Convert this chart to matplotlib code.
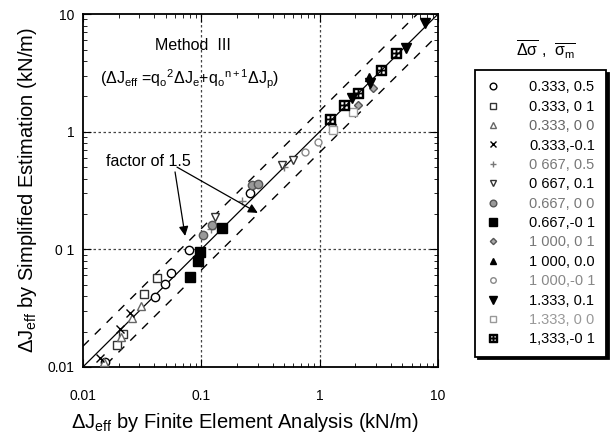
import matplotlib
matplotlib.use("Agg")
import matplotlib.pyplot as plt
from matplotlib.lines import Line2D
import numpy as np

plt.rcParams['font.family'] = ['Liberation Sans', 'DejaVu Sans']
plt.rcParams['mathtext.fontset'] = 'custom'
plt.rcParams['mathtext.rm'] = 'Liberation Sans'
plt.rcParams['mathtext.it'] = 'Liberation Sans'

labels = ['0.333, 0.5', '0.333, 0 1', '0.333, 0 0', '0.333,-0.1', '0 667, 0.5',
          '0 667, 0.1', '0.667, 0 0', '0.667,-0 1', '1 000, 0 1', '1 000, 0.0',
          '1 000,-0 1', '1.333, 0.1', '1.333, 0 0', '1,333,-0 1']

x_fe = [
    [0.0155, 0.041, 0.049, 0.055, 0.078, 0.26],
    [0.0195, 0.022, 0.033, 0.042],
    [0.015, 0.021, 0.026, 0.031],
    [0.014, 0.0205, 0.025],
    [0.12, 0.22, 0.5],
    [0.13, 0.48, 0.60, 1.27],
    [0.103, 0.123, 0.27, 0.30],
    [0.081, 0.094, 0.098, 0.149],
    [2.1, 2.84],
    [2.6],
    [0.75, 0.97],
    [1.87, 2.68, 5.4, 7.8],
    [1.3, 1.9],
    [1.23, 1.6, 2.11, 3.3, 4.43],
]
y_se = [
    [0.011, 0.039, 0.051, 0.063, 0.098, 0.30],
    [0.0155, 0.019, 0.042, 0.057],
    [0.011, 0.018, 0.026, 0.033],
    [0.012, 0.021, 0.029],
    [0.15, 0.26, 0.50],
    [0.188, 0.52, 0.575, 1.07],
    [0.132, 0.161, 0.35, 0.36],
    [0.058, 0.079, 0.095, 0.152],
    [1.69, 2.35],
    [2.9],
    [0.67, 0.82],
    [1.93, 2.6, 5.2, 8.4],
    [1.03, 1.47],
    [1.28, 1.69, 2.13, 3.34, 4.65],
]

styles = [
    dict(marker='o', mfc='white', mec='black', ms=6),
    dict(marker='s', mfc='white', mec='#333333', ms=6),
    dict(marker='^', mfc='white', mec='#666666', ms=6),
    dict(marker='x', mfc='none', mec='black', ms=6),
    dict(marker='+', mfc='none', mec='#777777', ms=6),
    dict(marker='v', mfc='white', mec='#333333', ms=6),
    dict(marker='o', mfc='#999999', mec='#555555', ms=6),
    dict(marker='s', mfc='black', mec='black', ms=7),
    dict(marker='D', mfc='#aaaaaa', mec='#555555', ms=4),
    dict(marker='^', mfc='black', mec='black', ms=6),
    dict(marker='o', mfc='white', mec='#888888', ms=5),
    dict(marker='v', mfc='black', mec='black', ms=7),
    dict(marker='s', mfc='white', mec='#999999', ms=6),
    dict(marker=r'$\boxplus$', mfc='black', mec='black', ms=7),
]
text_colors = ['black', 'black', '#666666', 'black', '#777777', 'black', '#777777',
               'black', '#777777', 'black', '#888888', 'black', '#999999', 'black']

fig = plt.figure(figsize=(6.1, 4.41), dpi=100)
ax = fig.add_axes([0.136, 0.168, 0.582, 0.800])
ax.set_xscale('log')
ax.set_yscale('log')
ax.set_xlim(0.01, 10)
ax.set_ylim(0.01, 10)

ref = np.array([0.01, 10])
ax.plot(ref, ref, color='black', lw=0.9, zorder=2)
ax.plot(ref, ref * 1.5, color='black', lw=1.0, ls=(0, (6, 6)), zorder=2)
ax.plot(ref, ref / 1.5, color='black', lw=1.0, ls=(0, (6, 6)), zorder=2)

for v in [0.1, 1]:
    ax.axvline(v, color='#444444', lw=0.9, ls=(0, (2, 2)), zorder=1)
    ax.axhline(v, color='#444444', lw=0.9, ls=(0, (2, 2)), zorder=1)

handles = []
for xs, ys, st, lab in zip(x_fe, y_se, styles, labels):
    ax.plot(xs, ys, ls='none', mew=1.0, zorder=3, **st)
    handles.append(Line2D([], [], ls='none', mew=1.0,
                          **{**st, 'ms': st['ms'] * 0.8}, label=lab))

ax.set_xticks([0.01, 0.1, 1, 10])
ax.set_xticklabels(['0.01', '0.1', '1', '10'])
ax.set_yticks([0.01, 0.1, 1, 10])
ax.set_yticklabels(['0.01', '0 1', '1', '10'])
ax.tick_params(which='both', direction='in', top=True, right=True, labelsize=10)
ax.tick_params(which='major', length=6)
ax.tick_params(which='minor', length=3)
ax.tick_params(axis='x', pad=16)
ax.tick_params(axis='y', pad=6)
for s in ax.spines.values():
    s.set_linewidth(1.3)

ax.set_xlabel(r'$\Delta$J$_{\mathregular{eff}}$ by Finite Element Analysis (kN/m)',
              fontsize=14.5, labelpad=10)
ax.xaxis.set_label_coords(0.458, -0.125)
ax.set_ylabel(r'$\Delta$J$_{\mathregular{eff}}$ by Simplified Estimation (kN/m)',
              fontsize=14.5, labelpad=6)

ax.text(0.31, 0.91, 'Method  III', transform=ax.transAxes, fontsize=11.5,
        ha='center', va='center')
ax.text(0.30, 0.815,
        r'($\Delta$J$_{\mathregular{eff}}$ =q$_{\mathregular{o}}$$^{\mathregular{2}}$$\Delta$J$_{\mathregular{e}}$'
        r'+q$_{\mathregular{o}}$$^{\mathregular{n+1}}$$\Delta$J$_{\mathregular{p}}$)',
        transform=ax.transAxes, fontsize=11.5, ha='center', va='center')

ax.text(0.0355, 0.553, 'factor of 1.5', fontsize=11.5, ha='center', va='center')
ax.annotate('', xy=(0.30, 0.204), xytext=(0.0623, 0.50),
            arrowprops=dict(arrowstyle='-|>', color='black', lw=0.9,
                            shrinkA=0, shrinkB=0, mutation_scale=14))
ax.annotate('', xy=(0.073, 0.13), xytext=(0.060, 0.455),
            arrowprops=dict(arrowstyle='-|>', color='black', lw=0.9,
                            shrinkA=0, shrinkB=0, mutation_scale=14))

leg = fig.legend(handles=handles, loc='upper left',
                 bbox_to_anchor=(0.779, 0.841), fontsize=10.5,
                 frameon=True, fancybox=False,
                 shadow={'color': 'black', 'alpha': 1.0},
                 handlelength=1.0, handletextpad=2.0, labelspacing=0.37,
                 borderpad=0.7, borderaxespad=0)
leg.get_frame().set_edgecolor('black')
leg.get_frame().set_linewidth(1.3)
for t, c in zip(leg.get_texts(), text_colors):
    t.set_color(c)

fig.text(0.895, 0.887, r'$\overline{\Delta\sigma}$ ,  $\overline{\sigma_{\mathregular{m}}}$',
         fontsize=11.5, ha='center', va='center')

fig.savefig('out.png', dpi=100)
